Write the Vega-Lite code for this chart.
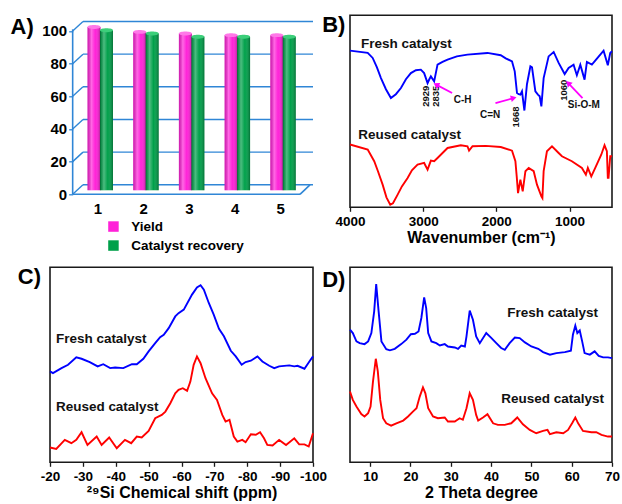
{
"$schema":"https://vega.github.io/schema/vega-lite/v6.json",
"padding":{"left":10,"top":12.3,"right":4,"bottom":4},
"config":{"font":"Liberation Sans","view":{"stroke":"#1a1a1a","strokeWidth":1.6},
"axis":{"labelFont":"Liberation Sans","titleFont":"Liberation Sans","labelColor":"#000","titleColor":"#000","tickColor":"#1a1a1a","grid":false,"labelOverlap":false,"labelFlush":false,"tickCount":30},
"legend":{"labelFont":"Liberation Sans"}},
"resolve":{"scale":{"color":"independent"}},
"datasets":{
"cycles":[{"cycle":1,"series":"Yield","value":100},{"cycle":2,"series":"Yield","value":97},{"cycle":3,"series":"Yield","value":96},{"cycle":4,"series":"Yield","value":95},{"cycle":5,"series":"Yield","value":95},
{"cycle":1,"series":"Catalyst recovery","value":98},{"cycle":2,"series":"Catalyst recovery","value":96},{"cycle":3,"series":"Catalyst recovery","value":94},{"cycle":4,"series":"Catalyst recovery","value":94},{"cycle":5,"series":"Catalyst recovery","value":94}],
"levels":[{"level":0},{"level":20},{"level":40},{"level":60},{"level":80},{"level":100}],
"ir":[
{"wn":4000,"t":81.6,"s":"Fresh"},{"wn":3758,"t":80.4,"s":"Fresh"},{"wn":3690,"t":77.8,"s":"Fresh"},{"wn":3632,"t":72.9,"s":"Fresh"},{"wn":3577,"t":67.3,"s":"Fresh"},{"wn":3509,"t":61.5,"s":"Fresh"},{"wn":3441,"t":56.9,"s":"Fresh"},{"wn":3373,"t":58.9,"s":"Fresh"},{"wn":3304,"t":62.1,"s":"Fresh"},{"wn":3236,"t":66.7,"s":"Fresh"},{"wn":3168,"t":69.9,"s":"Fresh"},{"wn":3100,"t":71.4,"s":"Fresh"},{"wn":3032,"t":71.7,"s":"Fresh"},{"wn":2987,"t":69.9,"s":"Fresh"},{"wn":2940,"t":64.7,"s":"Fresh"},{"wn":2916,"t":66.7,"s":"Fresh"},{"wn":2895,"t":68.2,"s":"Fresh"},{"wn":2850,"t":65.6,"s":"Fresh"},{"wn":2804,"t":74.3,"s":"Fresh"},{"wn":2736,"t":75.7,"s":"Fresh"},{"wn":2667,"t":76.9,"s":"Fresh"},{"wn":2540,"t":78.6,"s":"Fresh"},{"wn":2395,"t":79.5,"s":"Fresh"},{"wn":2122,"t":80.4,"s":"Fresh"},{"wn":1940,"t":79.2,"s":"Fresh"},{"wn":1872,"t":77.6,"s":"Fresh"},{"wn":1786,"t":76.0,"s":"Fresh"},{"wn":1749,"t":70.8,"s":"Fresh"},{"wn":1718,"t":59.5,"s":"Fresh"},{"wn":1695,"t":58.9,"s":"Fresh"},{"wn":1672,"t":58.7,"s":"Fresh"},{"wn":1650,"t":60.4,"s":"Fresh"},{"wn":1617,"t":50.4,"s":"Fresh"},{"wn":1582,"t":64.1,"s":"Fresh"},{"wn":1535,"t":73.4,"s":"Fresh"},{"wn":1513,"t":72.9,"s":"Fresh"},{"wn":1467,"t":60.4,"s":"Fresh"},{"wn":1432,"t":58.7,"s":"Fresh"},{"wn":1408,"t":57.8,"s":"Fresh"},{"wn":1385,"t":52.6,"s":"Fresh"},{"wn":1354,"t":67.3,"s":"Fresh"},{"wn":1286,"t":78.6,"s":"Fresh"},{"wn":1217,"t":80.9,"s":"Fresh"},{"wn":1149,"t":75.2,"s":"Fresh"},{"wn":1067,"t":69.4,"s":"Fresh"},{"wn":1013,"t":72.6,"s":"Fresh"},{"wn":945,"t":74.3,"s":"Fresh"},{"wn":900,"t":68.8,"s":"Fresh"},{"wn":853,"t":74.3,"s":"Fresh"},{"wn":795,"t":66.5,"s":"Fresh"},{"wn":763,"t":75.7,"s":"Fresh"},{"wn":695,"t":74.3,"s":"Fresh"},{"wn":649,"t":76.4,"s":"Fresh"},{"wn":535,"t":81.6,"s":"Fresh"},{"wn":477,"t":74.0,"s":"Fresh"},{"wn":444,"t":80.4,"s":"Fresh"},{"wn":420,"t":81.3,"s":"Fresh"},
{"wn":4000,"t":32.7,"s":"Reused"},{"wn":3758,"t":30.1,"s":"Reused"},{"wn":3669,"t":24.0,"s":"Reused"},{"wn":3618,"t":18.8,"s":"Reused"},{"wn":3554,"t":11.8,"s":"Reused"},{"wn":3502,"t":5.2,"s":"Reused"},{"wn":3450,"t":1.4,"s":"Reused"},{"wn":3413,"t":2.1,"s":"Reused"},{"wn":3349,"t":6.6,"s":"Reused"},{"wn":3291,"t":10.9,"s":"Reused"},{"wn":3213,"t":15.3,"s":"Reused"},{"wn":3154,"t":19.3,"s":"Reused"},{"wn":3077,"t":22.2,"s":"Reused"},{"wn":2987,"t":23.1,"s":"Reused"},{"wn":2940,"t":19.6,"s":"Reused"},{"wn":2895,"t":24.3,"s":"Reused"},{"wn":2850,"t":24.0,"s":"Reused"},{"wn":2804,"t":25.7,"s":"Reused"},{"wn":2667,"t":30.9,"s":"Reused"},{"wn":2486,"t":32.3,"s":"Reused"},{"wn":2395,"t":31.8,"s":"Reused"},{"wn":2373,"t":29.5,"s":"Reused"},{"wn":2326,"t":31.8,"s":"Reused"},{"wn":2145,"t":32.0,"s":"Reused"},{"wn":1940,"t":31.4,"s":"Reused"},{"wn":1786,"t":29.5,"s":"Reused"},{"wn":1740,"t":24.0,"s":"Reused"},{"wn":1722,"t":16.1,"s":"Reused"},{"wn":1704,"t":7.4,"s":"Reused"},{"wn":1672,"t":14.4,"s":"Reused"},{"wn":1640,"t":8.3,"s":"Reused"},{"wn":1603,"t":18.8,"s":"Reused"},{"wn":1558,"t":20.5,"s":"Reused"},{"wn":1490,"t":18.8,"s":"Reused"},{"wn":1445,"t":11.8,"s":"Reused"},{"wn":1385,"t":5.7,"s":"Reused"},{"wn":1371,"t":4.8,"s":"Reused"},{"wn":1354,"t":18.8,"s":"Reused"},{"wn":1309,"t":29.2,"s":"Reused"},{"wn":1240,"t":31.8,"s":"Reused"},{"wn":1149,"t":28.3,"s":"Reused"},{"wn":1104,"t":26.6,"s":"Reused"},{"wn":968,"t":24.0,"s":"Reused"},{"wn":831,"t":20.5,"s":"Reused"},{"wn":777,"t":17.0,"s":"Reused"},{"wn":750,"t":20.5,"s":"Reused"},{"wn":703,"t":16.1,"s":"Reused"},{"wn":649,"t":20.5,"s":"Reused"},{"wn":567,"t":27.4,"s":"Reused"},{"wn":522,"t":32.3,"s":"Reused"},{"wn":490,"t":29.2,"s":"Reused"},{"wn":477,"t":15.3,"s":"Reused"},{"wn":467,"t":15.3,"s":"Reused"},{"wn":444,"t":26.6,"s":"Reused"},{"wn":420,"t":26.6,"s":"Reused"}],
"irlab":[{"wn":3850,"t":84.9,"label":"Fresh catalyst"},{"wn":3887,"t":37.5,"label":"Reused catalyst"}],
"irpeak":[{"wn":2959,"t":57.8,"label":"2929"},{"wn":2831,"t":57.8,"label":"2835"},{"wn":1731,"t":47.0,"label":"1668"},{"wn":1081,"t":61.0,"label":"1060"}],
"irgroup":[{"wn":2461,"t":55.7,"label":"C-H"},{"wn":2086,"t":48.3,"label":"C=N"},{"wn":805,"t":53.1,"label":"Si-O-M"}],
"irarrow":[{"arrow":"C-H","wn":2605,"t":59.5,"wn2":2823,"t2":63.9},{"arrow":"C=N","wn":2012,"t":54.3,"wn2":1763,"t2":56.9},{"arrow":"Si-O-M","wn":823,"t":56.9,"wn2":1018,"t2":64.7}],
"nmr":[
{"ppm":-20,"i":46.6,"s":"Fresh"},{"ppm":-20.9,"i":45.7,"s":"Fresh"},{"ppm":-23.5,"i":48.3,"s":"Fresh"},{"ppm":-25.5,"i":50.0,"s":"Fresh"},{"ppm":-28.0,"i":53.8,"s":"Fresh"},{"ppm":-29.6,"i":53.1,"s":"Fresh"},{"ppm":-32.1,"i":51.4,"s":"Fresh"},{"ppm":-34.5,"i":49.2,"s":"Fresh"},{"ppm":-36.2,"i":50.3,"s":"Fresh"},{"ppm":-38.3,"i":48.3,"s":"Fresh"},{"ppm":-39.8,"i":48.6,"s":"Fresh"},{"ppm":-42.3,"i":48.3,"s":"Fresh"},{"ppm":-44.9,"i":50.3,"s":"Fresh"},{"ppm":-46.4,"i":50.3,"s":"Fresh"},{"ppm":-48.4,"i":53.1,"s":"Fresh"},{"ppm":-50.0,"i":56.9,"s":"Fresh"},{"ppm":-52.0,"i":61.1,"s":"Fresh"},{"ppm":-53.5,"i":64.2,"s":"Fresh"},{"ppm":-54.6,"i":65.4,"s":"Fresh"},{"ppm":-56.1,"i":68.8,"s":"Fresh"},{"ppm":-58.1,"i":74.8,"s":"Fresh"},{"ppm":-59.1,"i":76.5,"s":"Fresh"},{"ppm":-60.7,"i":78.3,"s":"Fresh"},{"ppm":-63.2,"i":86.0,"s":"Fresh"},{"ppm":-64.7,"i":89.7,"s":"Fresh"},{"ppm":-65.8,"i":90.8,"s":"Fresh"},{"ppm":-66.8,"i":88.5,"s":"Fresh"},{"ppm":-68.3,"i":81.7,"s":"Fresh"},{"ppm":-69.8,"i":75.7,"s":"Fresh"},{"ppm":-71.4,"i":68.5,"s":"Fresh"},{"ppm":-72.9,"i":64.6,"s":"Fresh"},{"ppm":-75.0,"i":57.2,"s":"Fresh"},{"ppm":-76.5,"i":54.3,"s":"Fresh"},{"ppm":-78.3,"i":50.0,"s":"Fresh"},{"ppm":-79.5,"i":51.4,"s":"Fresh"},{"ppm":-81.1,"i":52.1,"s":"Fresh"},{"ppm":-83.1,"i":54.3,"s":"Fresh"},{"ppm":-84.6,"i":51.7,"s":"Fresh"},{"ppm":-86.7,"i":49.5,"s":"Fresh"},{"ppm":-88.2,"i":48.3,"s":"Fresh"},{"ppm":-89.7,"i":49.2,"s":"Fresh"},{"ppm":-92.8,"i":49.7,"s":"Fresh"},{"ppm":-94.3,"i":49.2,"s":"Fresh"},{"ppm":-95.3,"i":49.5,"s":"Fresh"},{"ppm":-97.4,"i":48.0,"s":"Fresh"},{"ppm":-98.9,"i":51.7,"s":"Fresh"},{"ppm":-100,"i":54.3,"s":"Fresh"},
{"ppm":-20,"i":7.6,"s":"Reused"},{"ppm":-21.9,"i":6.9,"s":"Reused"},{"ppm":-24.5,"i":11.5,"s":"Reused"},{"ppm":-26.5,"i":9.8,"s":"Reused"},{"ppm":-28.0,"i":11.5,"s":"Reused"},{"ppm":-29.6,"i":15.4,"s":"Reused"},{"ppm":-31.4,"i":8.9,"s":"Reused"},{"ppm":-34.2,"i":13.2,"s":"Reused"},{"ppm":-35.7,"i":8.9,"s":"Reused"},{"ppm":-38.0,"i":12.7,"s":"Reused"},{"ppm":-40.3,"i":7.2,"s":"Reused"},{"ppm":-42.8,"i":11.5,"s":"Reused"},{"ppm":-44.7,"i":9.8,"s":"Reused"},{"ppm":-46.4,"i":13.2,"s":"Reused"},{"ppm":-47.9,"i":12.7,"s":"Reused"},{"ppm":-50.0,"i":16.1,"s":"Reused"},{"ppm":-52.0,"i":22.6,"s":"Reused"},{"ppm":-54.0,"i":24.3,"s":"Reused"},{"ppm":-55.1,"i":26.0,"s":"Reused"},{"ppm":-56.6,"i":30.3,"s":"Reused"},{"ppm":-58.1,"i":35.4,"s":"Reused"},{"ppm":-59.1,"i":37.2,"s":"Reused"},{"ppm":-60.4,"i":38.0,"s":"Reused"},{"ppm":-61.7,"i":36.7,"s":"Reused"},{"ppm":-62.7,"i":41.4,"s":"Reused"},{"ppm":-63.7,"i":50.0,"s":"Reused"},{"ppm":-64.7,"i":54.3,"s":"Reused"},{"ppm":-65.8,"i":50.8,"s":"Reused"},{"ppm":-67.3,"i":43.1,"s":"Reused"},{"ppm":-69.3,"i":35.4,"s":"Reused"},{"ppm":-70.8,"i":32.0,"s":"Reused"},{"ppm":-72.4,"i":24.3,"s":"Reused"},{"ppm":-73.4,"i":20.9,"s":"Reused"},{"ppm":-74.6,"i":21.8,"s":"Reused"},{"ppm":-75.9,"i":13.2,"s":"Reused"},{"ppm":-77.0,"i":10.6,"s":"Reused"},{"ppm":-78.5,"i":11.5,"s":"Reused"},{"ppm":-79.5,"i":10.3,"s":"Reused"},{"ppm":-81.1,"i":14.4,"s":"Reused"},{"ppm":-82.6,"i":14.1,"s":"Reused"},{"ppm":-83.9,"i":15.4,"s":"Reused"},{"ppm":-85.1,"i":12.3,"s":"Reused"},{"ppm":-86.1,"i":8.9,"s":"Reused"},{"ppm":-87.7,"i":8.6,"s":"Reused"},{"ppm":-89.7,"i":11.5,"s":"Reused"},{"ppm":-91.8,"i":8.9,"s":"Reused"},{"ppm":-94.3,"i":12.3,"s":"Reused"},{"ppm":-95.8,"i":9.2,"s":"Reused"},{"ppm":-97.4,"i":9.2,"s":"Reused"},{"ppm":-98.7,"i":8.1,"s":"Reused"},{"ppm":-100,"i":14.9,"s":"Reused"}],
"nmrlab":[{"ppm":-21.8,"i":63.4,"label":"Fresh catalyst"},{"ppm":-21.8,"i":28.6,"label":"Reused catalyst"}],
"xrd":[
{"tt":5.0,"i":68.0,"s":"Fresh"},{"tt":5.7,"i":66.3,"s":"Fresh"},{"tt":6.6,"i":62.0,"s":"Fresh"},{"tt":7.4,"i":61.1,"s":"Fresh"},{"tt":8.6,"i":60.6,"s":"Fresh"},{"tt":9.5,"i":62.0,"s":"Fresh"},{"tt":10.3,"i":66.3,"s":"Fresh"},{"tt":11.0,"i":77.4,"s":"Fresh"},{"tt":11.5,"i":91.4,"s":"Fresh"},{"tt":12.1,"i":77.4,"s":"Fresh"},{"tt":12.8,"i":62.0,"s":"Fresh"},{"tt":14.0,"i":58.0,"s":"Fresh"},{"tt":14.9,"i":57.4,"s":"Fresh"},{"tt":16.1,"i":58.2,"s":"Fresh"},{"tt":17.7,"i":60.6,"s":"Fresh"},{"tt":19.0,"i":62.9,"s":"Fresh"},{"tt":20.1,"i":65.7,"s":"Fresh"},{"tt":21.1,"i":65.9,"s":"Fresh"},{"tt":22.0,"i":67.1,"s":"Fresh"},{"tt":22.7,"i":74.0,"s":"Fresh"},{"tt":23.4,"i":84.6,"s":"Fresh"},{"tt":23.9,"i":79.1,"s":"Fresh"},{"tt":24.4,"i":66.3,"s":"Fresh"},{"tt":25.2,"i":62.0,"s":"Fresh"},{"tt":26.4,"i":61.1,"s":"Fresh"},{"tt":27.3,"i":59.9,"s":"Fresh"},{"tt":28.5,"i":60.6,"s":"Fresh"},{"tt":29.3,"i":59.4,"s":"Fresh"},{"tt":31.0,"i":58.9,"s":"Fresh"},{"tt":31.8,"i":58.2,"s":"Fresh"},{"tt":32.6,"i":59.9,"s":"Fresh"},{"tt":33.5,"i":59.4,"s":"Fresh"},{"tt":33.9,"i":64.6,"s":"Fresh"},{"tt":34.7,"i":77.8,"s":"Fresh"},{"tt":35.5,"i":73.1,"s":"Fresh"},{"tt":36.3,"i":64.6,"s":"Fresh"},{"tt":37.2,"i":61.1,"s":"Fresh"},{"tt":38.8,"i":66.3,"s":"Fresh"},{"tt":40.1,"i":63.7,"s":"Fresh"},{"tt":41.3,"i":61.1,"s":"Fresh"},{"tt":42.5,"i":58.6,"s":"Fresh"},{"tt":43.4,"i":57.7,"s":"Fresh"},{"tt":44.6,"i":61.1,"s":"Fresh"},{"tt":45.9,"i":64.0,"s":"Fresh"},{"tt":47.1,"i":63.7,"s":"Fresh"},{"tt":48.4,"i":61.5,"s":"Fresh"},{"tt":50.0,"i":59.4,"s":"Fresh"},{"tt":51.7,"i":58.2,"s":"Fresh"},{"tt":52.9,"i":56.5,"s":"Fresh"},{"tt":54.6,"i":55.2,"s":"Fresh"},{"tt":56.2,"i":56.0,"s":"Fresh"},{"tt":58.3,"i":56.5,"s":"Fresh"},{"tt":59.8,"i":57.2,"s":"Fresh"},{"tt":60.3,"i":65.4,"s":"Fresh"},{"tt":60.9,"i":70.1,"s":"Fresh"},{"tt":61.4,"i":66.3,"s":"Fresh"},{"tt":62.0,"i":67.6,"s":"Fresh"},{"tt":62.6,"i":62.0,"s":"Fresh"},{"tt":63.2,"i":56.0,"s":"Fresh"},{"tt":64.5,"i":55.2,"s":"Fresh"},{"tt":65.7,"i":56.9,"s":"Fresh"},{"tt":66.7,"i":54.6,"s":"Fresh"},{"tt":67.8,"i":53.8,"s":"Fresh"},{"tt":69.0,"i":53.8,"s":"Fresh"},{"tt":70.0,"i":53.4,"s":"Fresh"},
{"tt":5.0,"i":36.3,"s":"Reused"},{"tt":5.7,"i":32.0,"s":"Reused"},{"tt":6.6,"i":28.6,"s":"Reused"},{"tt":7.8,"i":24.7,"s":"Reused"},{"tt":8.6,"i":23.5,"s":"Reused"},{"tt":9.5,"i":25.2,"s":"Reused"},{"tt":10.1,"i":28.6,"s":"Reused"},{"tt":10.7,"i":41.4,"s":"Reused"},{"tt":11.4,"i":53.1,"s":"Reused"},{"tt":11.9,"i":46.6,"s":"Reused"},{"tt":12.5,"i":32.0,"s":"Reused"},{"tt":13.2,"i":22.6,"s":"Reused"},{"tt":14.0,"i":20.0,"s":"Reused"},{"tt":15.2,"i":18.8,"s":"Reused"},{"tt":16.5,"i":20.0,"s":"Reused"},{"tt":18.2,"i":21.4,"s":"Reused"},{"tt":19.4,"i":23.5,"s":"Reused"},{"tt":20.6,"i":26.0,"s":"Reused"},{"tt":21.5,"i":27.7,"s":"Reused"},{"tt":22.3,"i":33.7,"s":"Reused"},{"tt":23.1,"i":38.4,"s":"Reused"},{"tt":23.7,"i":35.4,"s":"Reused"},{"tt":24.4,"i":27.7,"s":"Reused"},{"tt":25.6,"i":23.5,"s":"Reused"},{"tt":26.8,"i":22.6,"s":"Reused"},{"tt":28.5,"i":23.0,"s":"Reused"},{"tt":29.3,"i":20.9,"s":"Reused"},{"tt":31.0,"i":20.9,"s":"Reused"},{"tt":32.2,"i":22.6,"s":"Reused"},{"tt":33.0,"i":21.8,"s":"Reused"},{"tt":33.9,"i":27.7,"s":"Reused"},{"tt":34.7,"i":35.4,"s":"Reused"},{"tt":35.5,"i":32.0,"s":"Reused"},{"tt":36.3,"i":24.3,"s":"Reused"},{"tt":36.8,"i":21.4,"s":"Reused"},{"tt":38.0,"i":23.0,"s":"Reused"},{"tt":39.1,"i":24.7,"s":"Reused"},{"tt":40.5,"i":20.0,"s":"Reused"},{"tt":41.7,"i":19.2,"s":"Reused"},{"tt":43.4,"i":19.2,"s":"Reused"},{"tt":45.0,"i":20.0,"s":"Reused"},{"tt":46.5,"i":23.0,"s":"Reused"},{"tt":47.9,"i":19.5,"s":"Reused"},{"tt":49.6,"i":16.6,"s":"Reused"},{"tt":51.2,"i":14.9,"s":"Reused"},{"tt":52.9,"i":16.1,"s":"Reused"},{"tt":54.0,"i":16.6,"s":"Reused"},{"tt":54.6,"i":14.4,"s":"Reused"},{"tt":56.2,"i":15.4,"s":"Reused"},{"tt":57.9,"i":14.9,"s":"Reused"},{"tt":59.1,"i":16.6,"s":"Reused"},{"tt":60.1,"i":20.0,"s":"Reused"},{"tt":60.9,"i":23.0,"s":"Reused"},{"tt":61.6,"i":20.0,"s":"Reused"},{"tt":62.8,"i":16.1,"s":"Reused"},{"tt":64.9,"i":15.4,"s":"Reused"},{"tt":66.1,"i":15.4,"s":"Reused"},{"tt":67.4,"i":14.1,"s":"Reused"},{"tt":69.0,"i":13.2,"s":"Reused"},{"tt":70.0,"i":13.2,"s":"Reused"}],
"xrdlab":[{"tt":66.5,"i":76.5,"label":"Fresh catalyst"},{"tt":68.0,"i":32.4,"label":"Reused catalyst"}]
},
"columns":2,
"bounds":"flush",
"spacing":{"row":60,"column":37},
"concat":[
{
"width":263,"height":192,
"view":{"stroke":null},
"layer":[
{"data":{"name":"levels"},"mark":{"type":"rect","color":"#2f86d6","opacity":1,"yOffset":-10.2,"y2Offset":-8.8},
"encoding":{"x":{"datum":0.683,"type":"quantitative","scale":{"domain":[-0.039,5.716],"padding":0}},"x2":{"datum":5.716},"y":{"field":"level","type":"quantitative","scale":{"domain":[-7.96,109.6]}},"y2":{"field":"level"}}},
{"data":{"name":"levels"},"mark":{"type":"rule","color":"#2f86d6","strokeWidth":1.4,"y2Offset":-9.5},
"encoding":{"x":{"datum":0.457,"type":"quantitative","scale":{"domain":[-0.039,5.716],"padding":0}},"x2":{"datum":0.683},"y":{"field":"level","type":"quantitative","scale":{"domain":[-7.96,109.6]}},"y2":{"field":"level"}}},
{"data":{"values":[{"edge":"front"}]},"mark":{"type":"rule","color":"#2f86d6","strokeWidth":1.6},
"encoding":{"x":{"datum":0.457,"type":"quantitative","scale":{"domain":[-0.039,5.716],"padding":0}},"x2":{"datum":5.431},"y":{"datum":0,"type":"quantitative","scale":{"domain":[-7.96,109.6]}}}},
{"data":{"values":[{"edge":"corner"}]},"mark":{"type":"rule","color":"#2f86d6","strokeWidth":1.6,"y2Offset":-9.5},
"encoding":{"x":{"datum":5.431,"type":"quantitative","scale":{"domain":[-0.039,5.716],"padding":0}},"x2":{"datum":5.65},"y":{"datum":0,"type":"quantitative","scale":{"domain":[-7.96,109.6]}},"y2":{"datum":0}}},
{"data":{"values":[{"edge":"axis"}]},"mark":{"type":"rule","color":"#2f86d6","strokeWidth":1.6},
"encoding":{"x":{"datum":0.457,"type":"quantitative","scale":{"domain":[-0.039,5.716],"padding":0}},"y":{"datum":0,"type":"quantitative","scale":{"domain":[-7.96,109.6]}},"y2":{"datum":101}}},
{"data":{"name":"cycles"},"transform":[{"filter":"datum.series == 'Yield'"}],
"mark":{"type":"bar","width":13,"xOffset":-3.5,"yOffset":-4,"y2Offset":-4},
"encoding":{
"x":{"field":"cycle","type":"quantitative","scale":{"domain":[-0.039,5.716],"padding":0},"axis":{"values":[1,2,3,4,5],"format":"d","tickCount":30,"labelOverlap":false,"domain":false,"ticks":false,"grid":false,"labelFontSize":15,"labelFontWeight":"bold","labelPadding":1,"offset":-7,"title":null}},
"y":{"field":"value","type":"quantitative","scale":{"domain":[-7.96,109.6]},"axis":{"values":[0,20,40,60,80,100],"format":"d","tickCount":30,"labelOverlap":false,"offset":-22.7,"domain":false,"grid":false,"tickColor":"#2f86d6","tickSize":4,"tickWidth":1.3,"labelFontSize":15,"labelFontWeight":"bold","labelPadding":2,"title":"A)","titleAngle":0,"titleX":-62.7,"titleY":11.7,"titleAlign":"left","titleBaseline":"middle","titleFontSize":22,"titleFontWeight":"bold"}},
"y2":{"datum":0},
"color":{"field":"series","type":"nominal","scale":{"domain":["Yield","Catalyst recovery"],"range":["#ff22d8","#00a04a"]},"legend":{"orient":"none","legendX":56.7,"legendY":204.5,"title":null,"symbolType":"square","symbolSize":110,"labelFontSize":13.5,"labelFontWeight":"bold","labelOffset":11,"rowPadding":4,"direction":"vertical","symbolStrokeWidth":0}}}},
{"data":{"name":"cycles"},"transform":[{"filter":"datum.series == 'Catalyst recovery'"}],
"mark":{"type":"bar","width":13,"xOffset":9,"yOffset":-4,"y2Offset":-4},
"encoding":{
"x":{"field":"cycle","type":"quantitative","scale":{"domain":[-0.039,5.716],"padding":0}},
"y":{"field":"value","type":"quantitative","scale":{"domain":[-7.96,109.6]}},
"y2":{"datum":0},
"color":{"field":"series","type":"nominal","scale":{"domain":["Yield","Catalyst recovery"],"range":["#ff22d8","#00a04a"]}}}},
{"data":{"name":"cycles"},"transform":[{"filter":"datum.series == 'Yield'"}],
"mark":{"type":"bar","width":13,"xOffset":-3.5,"yOffset":-4,"y2Offset":-4,"fill":{"gradient":"linear","x1":0,"x2":1,"y1":0,"y2":0,"stops":[{"offset":0,"color":"rgba(0,0,0,0.18)"},{"offset":0.3,"color":"rgba(255,255,255,0.32)"},{"offset":0.6,"color":"rgba(255,255,255,0)"},{"offset":1,"color":"rgba(0,0,0,0.3)"}]}},
"encoding":{"x":{"field":"cycle","type":"quantitative","scale":{"domain":[-0.039,5.716],"padding":0}},"y":{"field":"value","type":"quantitative","scale":{"domain":[-7.96,109.6]}},"y2":{"datum":0}}},
{"data":{"name":"cycles"},"transform":[{"filter":"datum.series == 'Catalyst recovery'"}],
"mark":{"type":"bar","width":13,"xOffset":9,"yOffset":-4,"y2Offset":-4,"fill":{"gradient":"linear","x1":0,"x2":1,"y1":0,"y2":0,"stops":[{"offset":0,"color":"rgba(0,0,0,0.18)"},{"offset":0.3,"color":"rgba(255,255,255,0.3)"},{"offset":0.6,"color":"rgba(255,255,255,0)"},{"offset":1,"color":"rgba(0,0,0,0.3)"}]}},
"encoding":{"x":{"field":"cycle","type":"quantitative","scale":{"domain":[-0.039,5.716],"padding":0}},"y":{"field":"value","type":"quantitative","scale":{"domain":[-7.96,109.6]}},"y2":{"datum":0}}},
{"data":{"name":"cycles"},"transform":[{"filter":"datum.series == 'Yield'"}],
"mark":{"type":"point","shape":"M-1,0A1,0.3,0,1,1,1,0A1,0.3,0,1,1,-1,0Z","size":169,"filled":true,"opacity":1,"fill":"#ff78e8","strokeWidth":0,"xOffset":-3.5,"yOffset":-4},
"encoding":{"x":{"field":"cycle","type":"quantitative","scale":{"domain":[-0.039,5.716],"padding":0}},"y":{"field":"value","type":"quantitative","scale":{"domain":[-7.96,109.6]}}}},
{"data":{"name":"cycles"},"transform":[{"filter":"datum.series == 'Catalyst recovery'"}],
"mark":{"type":"point","shape":"M-1,0A1,0.3,0,1,1,1,0A1,0.3,0,1,1,-1,0Z","size":169,"filled":true,"opacity":1,"fill":"#3ccf7a","strokeWidth":0,"xOffset":9,"yOffset":-4},
"encoding":{"x":{"field":"cycle","type":"quantitative","scale":{"domain":[-0.039,5.716],"padding":0}},"y":{"field":"value","type":"quantitative","scale":{"domain":[-7.96,109.6]}}}}
]
},
{
"width":262,"height":192,
"layer":[
{"data":{"name":"ir"},"mark":{"type":"line","strokeWidth":1.9},
"encoding":{
"x":{"field":"wn","type":"quantitative","scale":{"domain":[420,4000],"reverse":true},"axis":{"values":[4000,3000,2000,1000],"tickCount":30,"labelOverlap":false,"format":"d","domain":false,"tickSize":4,"tickWidth":1.3,"labelFontSize":13.5,"labelFontWeight":"bold","labelPadding":3,"title":"Wavenumber (cm⁻¹)","titleFontSize":16,"titleFontWeight":"bold","titlePadding":2}},
"y":{"field":"t","type":"quantitative","scale":{"domain":[0,100]},"axis":{"labels":false,"ticks":false,"domain":false,"grid":false,"title":"B)","titleAngle":0,"titleX":-28.3,"titleY":9.3,"titleAlign":"left","titleBaseline":"middle","titleFontSize":22,"titleFontWeight":"bold"}},
"color":{"field":"s","type":"nominal","scale":{"domain":["Fresh","Reused"],"range":["#0000ff","#ff0000"]},"legend":null}}},
{"data":{"name":"irlab"},"mark":{"type":"text","align":"left","baseline":"middle","fontSize":13.5,"fontWeight":"bold","color":"#111"},
"encoding":{"x":{"field":"wn","type":"quantitative","scale":{"domain":[420,4000],"reverse":true}},"y":{"field":"t","type":"quantitative","scale":{"domain":[0,100]}},"text":{"field":"label"}}},
{"data":{"name":"irpeak"},"mark":{"type":"text","align":"center","baseline":"middle","angle":270,"fontSize":9.5,"fontWeight":"bold","color":"#111"},
"encoding":{"x":{"field":"wn","type":"quantitative","scale":{"domain":[420,4000],"reverse":true}},"y":{"field":"t","type":"quantitative","scale":{"domain":[0,100]}},"text":{"field":"label"}}},
{"data":{"name":"irgroup"},"mark":{"type":"text","align":"center","baseline":"middle","fontSize":10,"fontWeight":"bold","color":"#111"},
"encoding":{"x":{"field":"wn","type":"quantitative","scale":{"domain":[420,4000],"reverse":true}},"y":{"field":"t","type":"quantitative","scale":{"domain":[0,100]}},"text":{"field":"label"}}},
{"data":{"name":"irarrow"},"mark":{"type":"rule","color":"#ff00ff","strokeWidth":1.8},
"encoding":{"x":{"field":"wn","type":"quantitative","scale":{"domain":[420,4000],"reverse":true}},"x2":{"field":"wn2"},"y":{"field":"t","type":"quantitative","scale":{"domain":[0,100]}},"y2":{"field":"t2"}}},
{"data":{"name":"irarrow"},"transform":[{"filter":"datum.arrow == 'C-H'"}],"mark":{"type":"point","shape":"triangle-up","filled":true,"opacity":1,"color":"#ff00ff","size":45,"angle":298},
"encoding":{"x":{"field":"wn2","type":"quantitative","scale":{"domain":[420,4000],"reverse":true}},"y":{"field":"t2","type":"quantitative","scale":{"domain":[0,100]}}}},
{"data":{"name":"irarrow"},"transform":[{"filter":"datum.arrow == 'C=N'"}],"mark":{"type":"point","shape":"triangle-up","filled":true,"opacity":1,"color":"#ff00ff","size":45,"angle":75},
"encoding":{"x":{"field":"wn2","type":"quantitative","scale":{"domain":[420,4000],"reverse":true}},"y":{"field":"t2","type":"quantitative","scale":{"domain":[0,100]}}}},
{"data":{"name":"irarrow"},"transform":[{"filter":"datum.arrow == 'Si-O-M'"}],"mark":{"type":"point","shape":"triangle-up","filled":true,"opacity":1,"color":"#ff00ff","size":45,"angle":316},
"encoding":{"x":{"field":"wn2","type":"quantitative","scale":{"domain":[420,4000],"reverse":true}},"y":{"field":"t2","type":"quantitative","scale":{"domain":[0,100]}}}}
]
},
{
"width":263,"height":195,
"layer":[
{"data":{"name":"nmr"},"mark":{"type":"line","strokeWidth":1.9},
"encoding":{
"x":{"field":"ppm","type":"quantitative","scale":{"domain":[-100,-20],"reverse":true},"axis":{"values":[-20,-30,-40,-50,-60,-70,-80,-90,-100],"tickCount":30,"labelOverlap":false,"labelExpr":"'-' + (-datum.value)","domain":false,"tickSize":4,"tickWidth":1.3,"labelFontSize":13.5,"labelFontWeight":"bold","labelPadding":3,"title":"²⁹Si Chemical shift (ppm)","titleFontSize":16,"titleFontWeight":"bold","titlePadding":2}},
"y":{"field":"i","type":"quantitative","scale":{"domain":[0,100]},"axis":{"labels":false,"ticks":false,"domain":false,"grid":false,"title":"C)","titleAngle":0,"titleX":-32.7,"titleY":9,"titleAlign":"left","titleBaseline":"middle","titleFontSize":22,"titleFontWeight":"bold"}},
"color":{"field":"s","type":"nominal","scale":{"domain":["Fresh","Reused"],"range":["#0000ff","#ff0000"]},"legend":null}}},
{"data":{"name":"nmrlab"},"mark":{"type":"text","align":"left","baseline":"middle","fontSize":13.5,"fontWeight":"bold","color":"#111"},
"encoding":{"x":{"field":"ppm","type":"quantitative","scale":{"domain":[-100,-20],"reverse":true}},"y":{"field":"i","type":"quantitative","scale":{"domain":[0,100]}},"text":{"field":"label"}}}
]
},
{
"width":262,"height":195,
"layer":[
{"data":{"name":"xrd"},"mark":{"type":"line","strokeWidth":1.9},
"encoding":{
"x":{"field":"tt","type":"quantitative","scale":{"domain":[5,70]},"axis":{"values":[10,20,30,40,50,60,70],"tickCount":30,"labelOverlap":false,"domain":false,"tickSize":4,"tickWidth":1.3,"labelFontSize":13.5,"labelFontWeight":"bold","labelPadding":3,"title":"2 Theta degree","titleFontSize":16,"titleFontWeight":"bold","titlePadding":2}},
"y":{"field":"i","type":"quantitative","scale":{"domain":[0,100]},"axis":{"labels":false,"ticks":false,"domain":false,"grid":false,"title":"D)","titleAngle":0,"titleX":-28.3,"titleY":12,"titleAlign":"left","titleBaseline":"middle","titleFontSize":22,"titleFontWeight":"bold"}},
"color":{"field":"s","type":"nominal","scale":{"domain":["Fresh","Reused"],"range":["#0000ff","#ff0000"]},"legend":null}}},
{"data":{"name":"xrdlab"},"mark":{"type":"text","align":"right","baseline":"middle","fontSize":13.5,"fontWeight":"bold","color":"#111"},
"encoding":{"x":{"field":"tt","type":"quantitative","scale":{"domain":[5,70]}},"y":{"field":"i","type":"quantitative","scale":{"domain":[0,100]}},"text":{"field":"label"}}}
]
}
]
}
